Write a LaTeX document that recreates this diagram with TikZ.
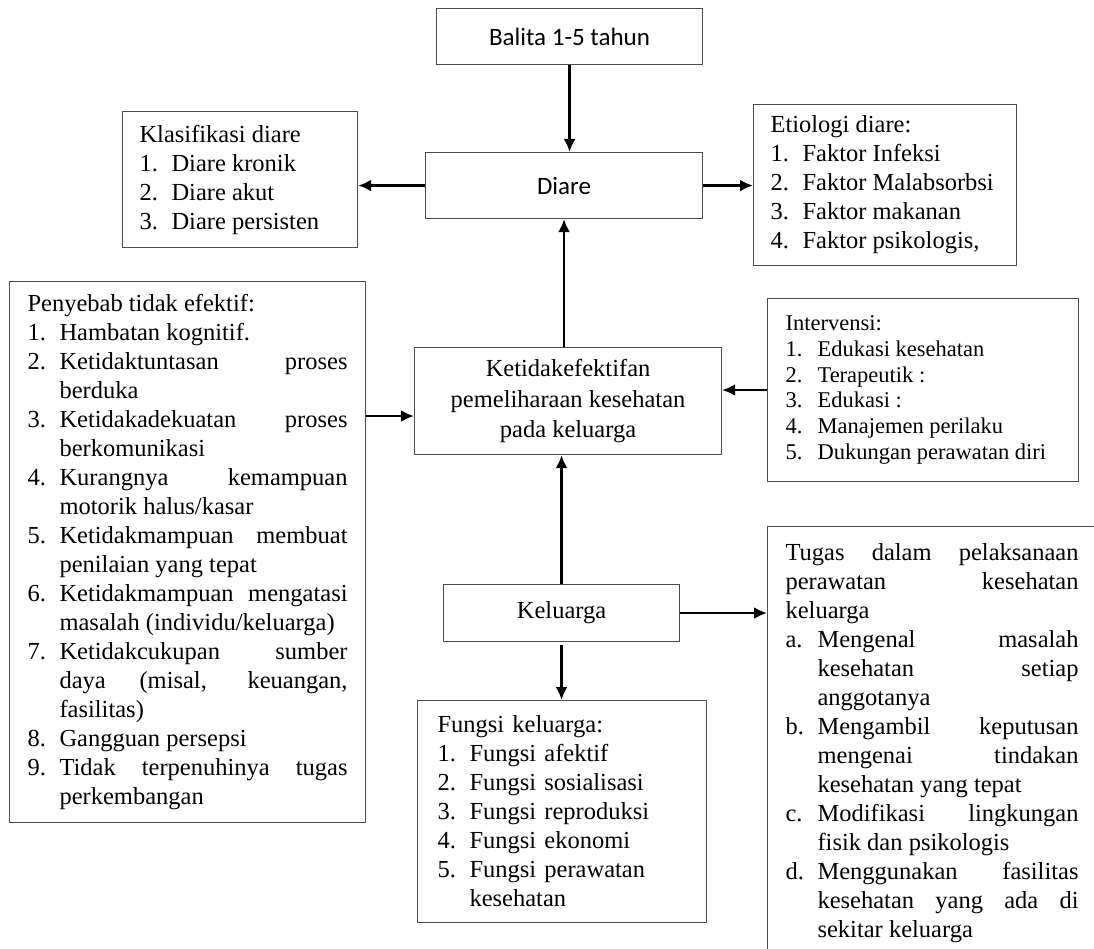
\documentclass[tikz,border=0pt]{standalone}
\usepackage{fontspec}
\setmainfont{Liberation Serif}
\newfontfamily\calibrifont{Carlito}
\usetikzlibrary{arrows.meta}
\hyphenpenalty=10000
\exhyphenpenalty=10000
\tolerance=10000
\newlength{\numwd}
\setlength{\numwd}{32pt}
\newcommand{\numitem}[2]{\par\hangindent=\numwd\hangafter=1\noindent\hbox to\numwd{#1\hfil}#2\par}

\begin{document}
\begin{tikzpicture}[x=1pt, y=-1pt,
  box/.style={draw=black!70, line width=1.1pt, inner sep=0pt},
  calbox/.style={box, anchor=north west, font=\calibrifont\fontsize{25}{30}\selectfont},
  plainbox/.style={box, anchor=north west, align=center, font=\fontsize{24.5}{30.5}\selectfont},
  listbox/.style={box, anchor=north west, align=justify, font=\fontsize{24.5}{29}\selectfont},
  arrow/.style={-{Latex[length=13pt,width=12pt]}, line width=2.8pt}
]
\path[use as bounding box, fill=white] (0,0) rectangle (1094,949);
\clip (0,0) rectangle (1094,949);

\node[calbox, minimum width=266pt, minimum height=56pt] (balita) at (436,8) {Balita 1-5 tahun};
\node[calbox, minimum width=277pt, minimum height=66pt] (diare) at (425,152) {Diare};
\node[listbox, text width=201pt, inner xsep=17pt, minimum height=136pt] (klasifikasi) at (122,111) {%
  \noindent Klasifikasi diare
  \numitem{1.}{Diare kronik}
  \numitem{2.}{Diare akut}
  \numitem{3.}{Diare persisten}};
\node[listbox, text width=229pt, inner xsep=17pt, minimum height=161pt] (etiologi) at (753,104) {%
  \noindent Etiologi diare:
  \numitem{1.}{Faktor Infeksi}
  \numitem{2.}{Faktor Malabsorbsi}
  \numitem{3.}{Faktor makanan}
  \numitem{4.}{Faktor psikologis,}};
\node[listbox, text width=320pt, inner xsep=18pt, minimum height=541pt] (penyebab) at (9,281) {%
  \noindent Penyebab tidak efektif:
  \numitem{1.}{Hambatan kognitif.}
  \numitem{2.}{Ketidaktuntasan proses\linebreak berduka}
  \numitem{3.}{Ketidakadekuatan proses\linebreak berkomunikasi}
  \numitem{4.}{Kurangnya kemampuan\linebreak motorik halus/kasar}
  \numitem{5.}{Ketidakmampuan membuat\linebreak penilaian yang tepat}
  \numitem{6.}{Ketidakmampuan mengatasi\linebreak masalah (individu/keluarga)}
  \numitem{7.}{Ketidakcukupan sumber\linebreak daya (misal, keuangan,\linebreak fasilitas)}
  \numitem{8.}{Gangguan persepsi}
  \numitem{9.}{Tidak terpenuhinya tugas\linebreak perkembangan}};
\node[plainbox, minimum width=307pt, minimum height=107pt] (ketidak) at (414,347)
  {Ketidakefektifan\\pemeliharaan kesehatan\\pada keluarga};
\node[listbox, text width=275pt, inner xsep=18pt, minimum height=183pt,
  font=\fontsize{22.5}{25.7}\selectfont] (intervensi) at (767,298) {%
  \noindent Intervensi:
  \numitem{1.}{Edukasi kesehatan}
  \numitem{2.}{Terapeutik :}
  \numitem{3.}{Edukasi :}
  \numitem{4.}{Manajemen perilaku}
  \numitem{5.}{Dukungan perawatan diri}};
\node[plainbox, minimum width=236pt, minimum height=57pt] (keluarga) at (443,584) {Keluarga};
\node[listbox, align=left, text width=249pt, inner xsep=20pt, minimum height=222pt] (fungsi) at (417,700) {%
  \noindent Fungsi keluarga:
  \numitem{1.}{Fungsi afektif}
  \numitem{2.}{Fungsi sosialisasi}
  \numitem{3.}{Fungsi reproduksi}
  \numitem{4.}{Fungsi ekonomi}
  \numitem{5.}{Fungsi perawatan\linebreak kesehatan}};
\node[listbox, text width=293pt, inner xsep=18pt, inner ysep=17pt] (tugas) at (767,526) {%
  \noindent Tugas dalam pelaksanaan\linebreak perawatan kesehatan\linebreak keluarga
  \numitem{a.}{Mengenal masalah\linebreak kesehatan setiap\linebreak anggotanya}
  \numitem{b.}{Mengambil keputusan\linebreak mengenai tindakan\linebreak kesehatan yang tepat}
  \numitem{c.}{Modifikasi lingkungan\linebreak fisik dan psikologis}
  \numitem{d.}{Menggunakan fasilitas\linebreak kesehatan yang ada di\linebreak sekitar keluarga}};

\coordinate (pin) at ([yshift=-15pt]ketidak.west);
\draw[arrow] (balita.south) -- (balita.south |- diare.north);
\draw[arrow] (diare.west) -- (klasifikasi.east |- diare.west);
\draw[arrow] (diare.east) -- (etiologi.west |- diare.east);
\draw[arrow] (diare.south |- ketidak.north) -- (diare.south);
\draw[arrow] (penyebab.east |- pin) -- (pin);
\draw[arrow] (intervensi.west) -- (ketidak.east |- intervensi.west);
\draw[arrow] (keluarga.north) -- (keluarga.north |- ketidak.south);
\draw[arrow] (keluarga.east) -- (tugas.west |- keluarga.east);
\draw[arrow] ([yshift=-3pt]keluarga.south) -- (keluarga.south |- fungsi.north);
\end{tikzpicture}
\end{document}
